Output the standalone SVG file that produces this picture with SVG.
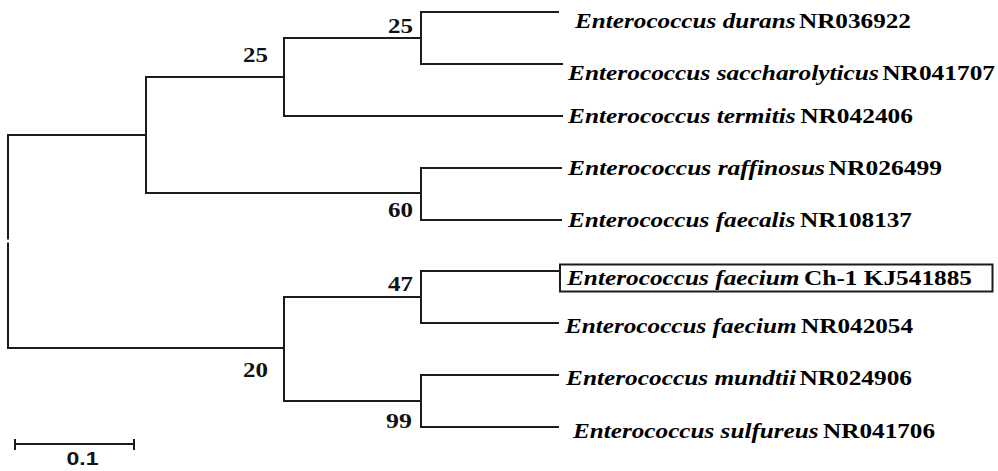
<svg xmlns="http://www.w3.org/2000/svg" width="998" height="471" viewBox="0 0 998 471">
<style>
.br{fill:none;stroke:#1c1c1c;stroke-width:2;stroke-linecap:square}
.lbl{font-family:"Liberation Serif","Times New Roman",serif;font-size:22px;font-weight:bold;fill:#000}
.sp{font-style:italic}
.bs{font-family:"Liberation Serif","Times New Roman",serif;font-size:20px;font-weight:bold;fill:#111}
.sc{font-family:"Liberation Sans",Arial,sans-serif;font-size:19px;font-weight:bold;fill:#111}
</style>
<rect width="998" height="471" fill="#fff"/>
<g id="connectors">
<path class="br" d="M8,135 V239.5 M8,242.5 V348" style="stroke-linecap:butt"/>
<path class="br" d="M8,135 H146"/>
<path class="br" d="M8,348 H284"/>
<path class="br" d="M146,77 V193"/>
<path class="br" d="M146,77 H284"/>
<path class="br" d="M146,193 H421"/>
<path class="br" d="M284,38 V116"/>
<path class="br" d="M284,38 H421"/>
<path class="br" d="M284,116 H562"/>
<path class="br" d="M421,12 V64"/>
<path class="br" d="M421,12 H558"/>
<path class="br" d="M421,64 H562"/>
<path class="br" d="M421,168 V220"/>
<path class="br" d="M421,168 H561"/>
<path class="br" d="M421,220 H561"/>
<path class="br" d="M284,297 V401"/>
<path class="br" d="M284,297 H421"/>
<path class="br" d="M284,401 H421"/>
<path class="br" d="M421,271 V323"/>
<path class="br" d="M421,271 H559"/>
<path class="br" d="M421,323 H558"/>
<path class="br" d="M421,375 V427"/>
<path class="br" d="M421,375 H558"/>
<path class="br" d="M421,427 H558"/>
</g>
<g id="bootstrap">
<text class="bs" transform="translate(388,33) scale(1.2,1)" textLength="20.8" lengthAdjust="spacingAndGlyphs">25</text>
<text class="bs" transform="translate(243,62) scale(1.2,1)" textLength="20.8" lengthAdjust="spacingAndGlyphs">25</text>
<text class="bs" transform="translate(388,217) scale(1.2,1)" textLength="20.8" lengthAdjust="spacingAndGlyphs">60</text>
<text class="bs" transform="translate(388,291) scale(1.2,1)" textLength="20.8" lengthAdjust="spacingAndGlyphs">47</text>
<text class="bs" transform="translate(243,377) scale(1.2,1)" textLength="20.8" lengthAdjust="spacingAndGlyphs">20</text>
<text class="bs" transform="translate(386,428) scale(1.2,1)" textLength="21.6" lengthAdjust="spacingAndGlyphs">99</text>
</g>
<g id="leaf-durans"><text class="lbl" transform="translate(575,28) scale(1.13,1)" textLength="297.3" lengthAdjust="spacingAndGlyphs"><tspan class="sp">Enterococcus durans</tspan><tspan dx="3">NR036922</tspan></text></g>
<g id="leaf-saccharolyticus"><text class="lbl" transform="translate(568,80) scale(1.13,1)" textLength="377.9" lengthAdjust="spacingAndGlyphs"><tspan class="sp">Enterococcus saccharolyticus</tspan><tspan dx="3">NR041707</tspan></text></g>
<g id="leaf-termitis"><text class="lbl" transform="translate(568,123) scale(1.13,1)" textLength="305.3" lengthAdjust="spacingAndGlyphs"><tspan class="sp">Enterococcus termitis</tspan><tspan dx="4">NR042406</tspan></text></g>
<g id="leaf-raffinosus"><text class="lbl" transform="translate(568,175) scale(1.13,1)" textLength="331" lengthAdjust="spacingAndGlyphs"><tspan class="sp">Enterococcus raffinosus</tspan><tspan dx="3">NR026499</tspan></text></g>
<g id="leaf-faecalis"><text class="lbl" transform="translate(568,227) scale(1.13,1)" textLength="304.4" lengthAdjust="spacingAndGlyphs"><tspan class="sp">Enterococcus faecalis</tspan><tspan dx="4">NR108137</tspan></text></g>
<g id="leaf-faecium-ch1">
<rect x="560" y="264.5" width="432.5" height="27" fill="none" stroke="#1c1c1c" stroke-width="2"/>
<text class="lbl" transform="translate(567,285) scale(1.13,1)" textLength="358.4" lengthAdjust="spacingAndGlyphs"><tspan class="sp">Enterococcus faecium</tspan><tspan dx="4">Ch-1 KJ541885</tspan></text>
</g>
<g id="leaf-faecium"><text class="lbl" transform="translate(565,333) scale(1.13,1)" textLength="308" lengthAdjust="spacingAndGlyphs"><tspan class="sp">Enterococcus faecium</tspan><tspan dx="4">NR042054</tspan></text></g>
<g id="leaf-mundtii"><text class="lbl" transform="translate(566,385) scale(1.13,1)" textLength="306.2" lengthAdjust="spacingAndGlyphs"><tspan class="sp">Enterococcus mundtii</tspan><tspan dx="3">NR024906</tspan></text></g>
<g id="leaf-sulfureus"><text class="lbl" transform="translate(573,438) scale(1.13,1)" textLength="320.4" lengthAdjust="spacingAndGlyphs"><tspan class="sp">Enterococcus sulfureus</tspan><tspan dx="4">NR041706</tspan></text></g>
<g id="scale-bar">
<path class="br" d="M15,444 H134 M15,440 V449 M134,440 V449"/>
<text class="sc" transform="translate(66.5,465) scale(1.2,1)" textLength="26.7" lengthAdjust="spacingAndGlyphs">0.1</text>
</g>
</svg>
